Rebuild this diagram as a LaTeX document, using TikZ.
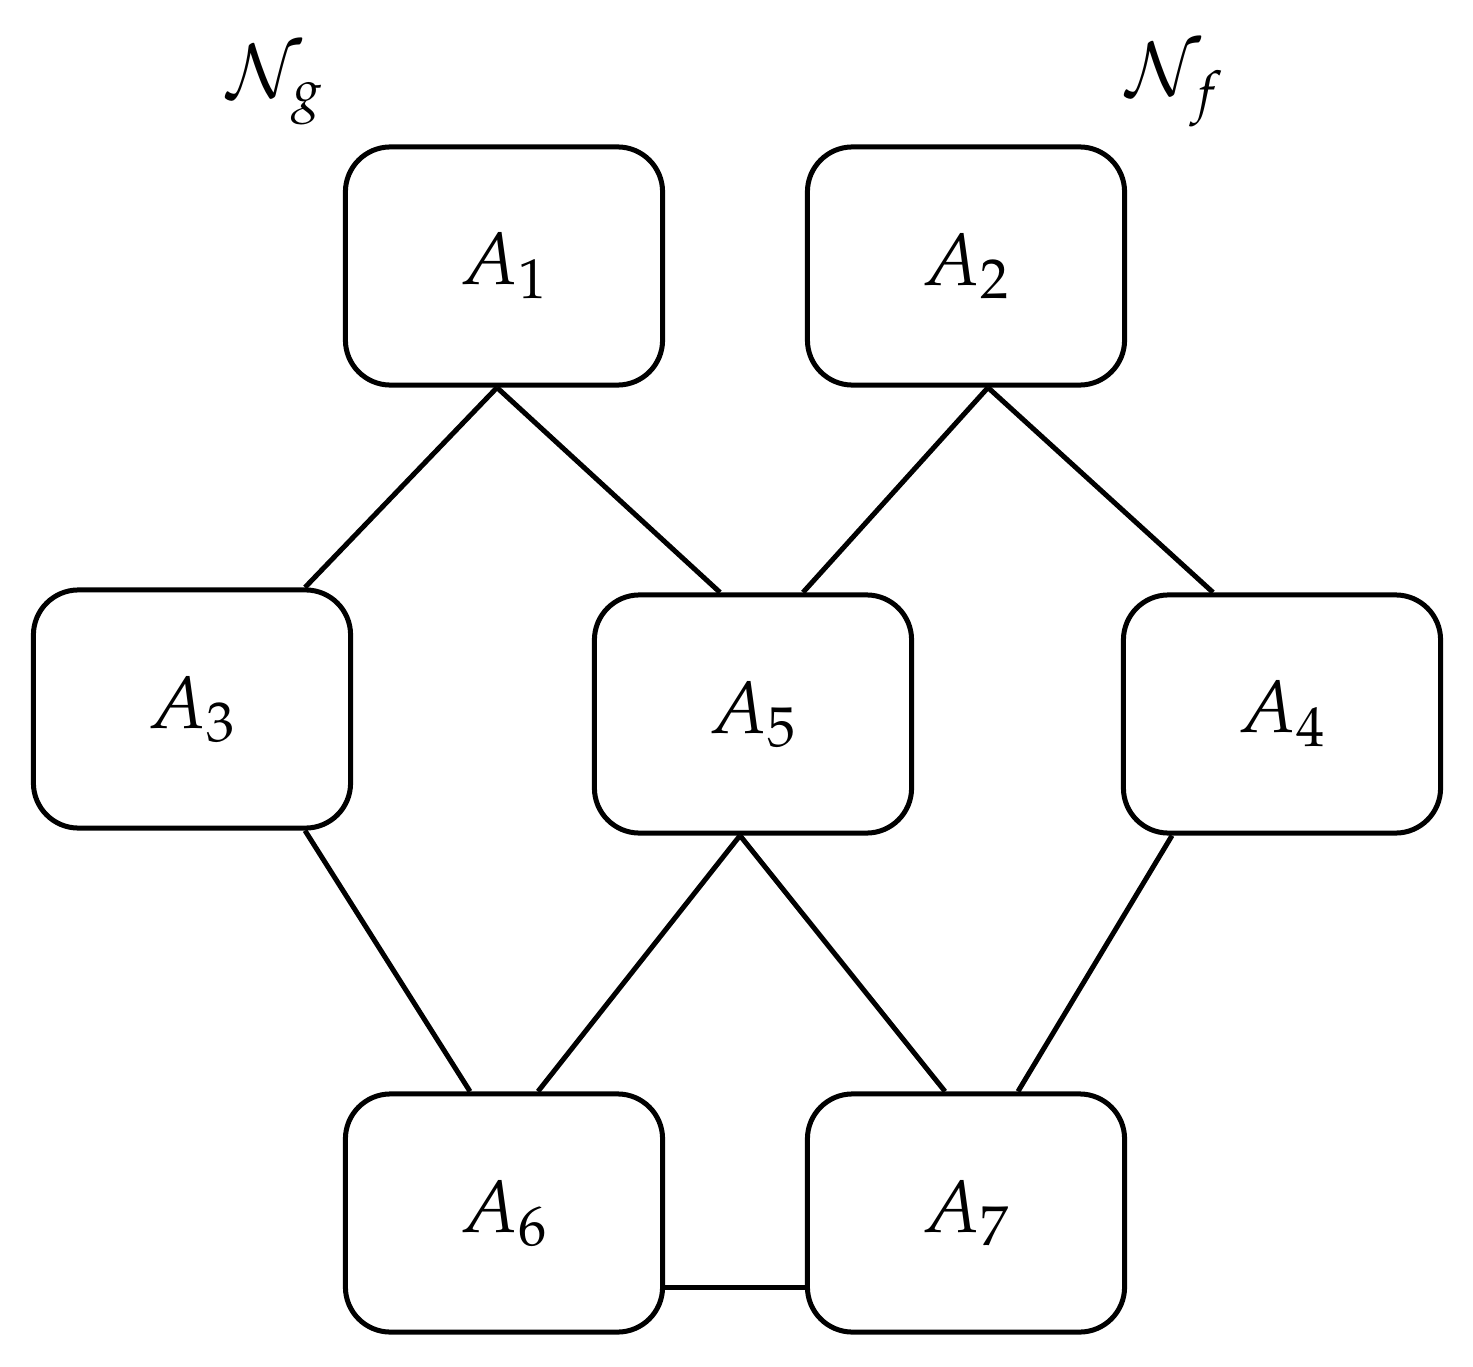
\documentclass[tikz,border=0pt]{standalone}
\usepackage{mathpazo}
\usetikzlibrary{calc}
\begin{document}
\begin{tikzpicture}[x=0.01cm,y=-0.01cm,
  box/.style={draw,line width=0.05cm,rounded corners=0.45cm,minimum width=3.17cm,minimum height=2.38cm,font=\fontsize{21}{25}\selectfont},
  lbl/.style={font=\fontsize{21}{25}\selectfont},
  e/.style={line width=0.05cm}]
\useasboundingbox (0,0) rectangle (1473,1367);
\node[lbl] (Ng) at (275,85) {$\mathcal{N}_g$};
\node[lbl] (Nf) at (1175,85) {$\mathcal{N}_f$};
\node[box] (A1) at (504,266) {$A_1$};
\node[box] (A2) at (966,266) {$A_2$};
\node[box] (A3) at (192,709) {$A_3$};
\node[box] (A5) at (753,714) {$A_5$};
\node[box] (A4) at (1282,714) {$A_4$};
\node[box] (A6) at (504,1213) {$A_6$};
\node[box] (A7) at (966,1213) {$A_7$};
\draw[e] ($(A1.south)+(-7,0)$) -- ($(A3.north)+(113,0)$);
\draw[e] ($(A1.south)+(-7,0)$) -- ($(A5.north)+(-33,0)$);
\draw[e] ($(A2.south)+(22,0)$) -- ($(A5.north)+(50,0)$);
\draw[e] ($(A2.south)+(22,0)$) -- ($(A4.north)+(-69,0)$);
\draw[e] ($(A3.south)+(113,0)$) -- ($(A6.north)+(-34,0)$);
\draw[e] ($(A5.south)+(-13,0)$) -- ($(A6.north)+(34,0)$);
\draw[e] ($(A5.south)+(-13,0)$) -- ($(A7.north)+(-21,0)$);
\draw[e] ($(A4.south)+(-110,0)$) -- ($(A7.north)+(52,0)$);
\draw[e] ($(A6.east)+(0,74)$) -- ($(A7.west)+(0,74)$);
\end{tikzpicture}
\end{document}
